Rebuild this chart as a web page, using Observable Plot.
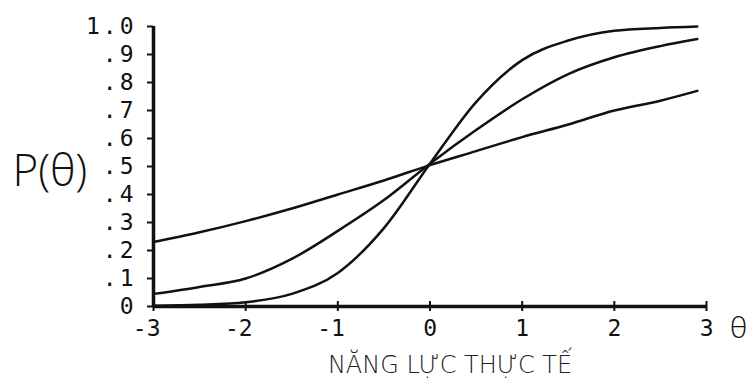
<!DOCTYPE html>
<html>
<head>
<meta charset="utf-8">
<script src="https://cdn.jsdelivr.net/npm/d3@7"></script>
<script src="https://cdn.jsdelivr.net/npm/@observablehq/plot@0.6"></script>
<style>
  html, body { margin: 0; padding: 0; background: #fff; }
  #chart svg { display: block; }
  g[aria-label="y-axis tick label"] text { letter-spacing: 3px; }
  g[aria-label="x-tick-label"] text { letter-spacing: 2px; }
  g[aria-label="x-title"] text { letter-spacing: 2.2px; }
</style>
</head>
<body>
<div id="chart"></div>
<script>
// Ability values (theta) at which the curves were read
const theta = [-3, -2.5, -2, -1.5, -1, -0.5, 0, 0.5, 1, 1.5, 2, 2.5, 2.9];
// Probability of correct answer, three items
const itemLow  = [0.23, 0.265, 0.305, 0.35, 0.40, 0.45, 0.505, 0.555, 0.605, 0.65, 0.70, 0.735, 0.77];
const itemMid  = [0.045, 0.07, 0.10, 0.17, 0.27, 0.38, 0.51, 0.63, 0.74, 0.83, 0.89, 0.93, 0.955];
const itemHigh = [0.003, 0.006, 0.015, 0.045, 0.12, 0.28, 0.51, 0.73, 0.88, 0.95, 0.985, 0.995, 1.0];

const yTicks = [0, 0.1, 0.2, 0.3, 0.4, 0.5, 0.6, 0.7, 0.8, 0.9, 1.0];
const yTickLabels = ["0", ".1", ".2", ".3", ".4", ".5", ".6", ".7", ".8", ".9", "1.0"];
const xTicks = [-3, -2, -1, 0, 1, 2, 3];
const xTickLabels = ["-3", "-2", "-1", "0", "1", "2", "3"];

const yLabel = "P(θ)";
const xSymbol = "θ";
const xTitle = "NĂNG LỰC THỰC TẾ";

const series = [
  {item: "low", values: itemLow},
  {item: "mid", values: itemMid},
  {item: "high", values: itemHigh}
];
const rows = series.flatMap(s => s.values.map((p, i) => ({item: s.item, theta: theta[i], p})));

const mono = "'DejaVu Sans Mono', 'Liberation Mono', monospace";
const thin = "'Open Sans', 'Liberation Sans', sans-serif";
const wide = "'DejaVu Sans', 'Open Sans', sans-serif";

const chart = Plot.plot({
  width: 748,
  height: 382,
  marginLeft: 153,
  marginRight: 42,
  marginTop: 26,
  marginBottom: 76,
  style: {background: "#fff", color: "#111"},
  x: {domain: [-3, 3], axis: null},
  y: {domain: [0, 1], axis: null},
  marks: [
    Plot.line(rows, {x: "theta", y: "p", z: "item", stroke: "#111", strokeWidth: 2.5, curve: "monotone-x"}),
    Plot.ruleY([0], {stroke: "#111", strokeWidth: 3.5}),
    Plot.ruleX([-3], {stroke: "#111", strokeWidth: 3.5}),
    Plot.axisY({
      ticks: yTicks,
      tickSize: 6,
      tickPadding: 11,
      strokeWidth: 2,
      tickFormat: d => yTickLabels[Math.round(d * 10)],
      fontSize: 23,
      fontFamily: mono,
      label: null
    }),
    Plot.ruleX(xTicks, {x: d => d, y1: 0, y2: 0, insetTop: -5, insetBottom: -5, stroke: "#111", strokeWidth: 2}),
    Plot.text(xTicks, {
      ariaLabel: "x-tick-label",
      x: d => d,
      frameAnchor: "bottom",
      text: (d, i) => xTickLabels[i],
      textAnchor: "end",
      dx: 7,
      dy: 22,
      lineAnchor: "middle",
      fontSize: 23,
      fontFamily: mono,
      fill: "#111"
    }),
    Plot.text([yLabel], {
      frameAnchor: "left",
      text: d => d,
      textAnchor: "start",
      dx: -141,
      dy: 5,
      lineAnchor: "middle",
      fontSize: 44,
      fontWeight: 300,
      fontFamily: thin,
      fill: "#111"
    }),
    Plot.text([xSymbol], {
      frameAnchor: "bottom-right",
      text: d => d,
      textAnchor: "middle",
      dx: 32,
      dy: 22,
      lineAnchor: "middle",
      fontSize: 30,
      fontWeight: 300,
      fontFamily: thin,
      fill: "#111"
    }),
    Plot.text([xTitle], {
      ariaLabel: "x-title",
      frameAnchor: "bottom",
      text: d => d,
      textAnchor: "middle",
      dx: 20,
      dy: 59,
      lineAnchor: "middle",
      fontSize: 24,
      fontWeight: 200,
      fontFamily: wide,
      fill: "#222"
    })
  ]
});
document.getElementById("chart").appendChild(chart);
</script>
</body>
</html>
